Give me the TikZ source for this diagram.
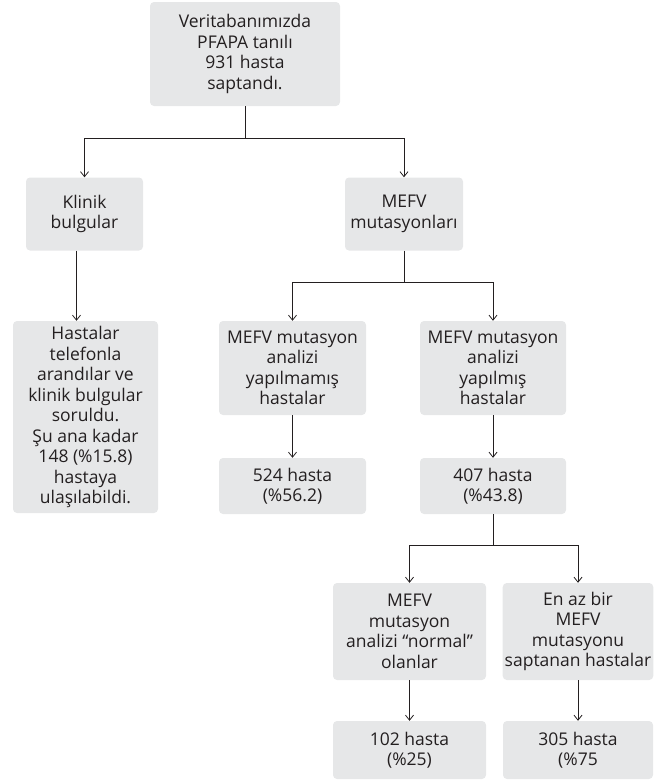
\documentclass[tikz,border=0pt]{standalone}
\usepackage{fontspec}
\setmainfont{Open Sans}
\usetikzlibrary{arrows.meta}
\definecolor{boxgray}{HTML}{E6E7E8}
\definecolor{ink}{HTML}{231F20}
\tikzset{
  box/.style={fill=boxgray,rounded corners=4pt,align=center,text=ink,inner sep=2pt,
    font=\fontsize{17.5}{20.5}\selectfont},
  arr/.style={draw=ink,line width=0.8pt,-{Straight Barb[length=5pt,width=8pt]}},
  ln/.style={draw=ink,line width=0.8pt}
}
\begin{document}
\begin{tikzpicture}[x=1pt,y=1pt]
  \useasboundingbox (0,0) rectangle (654,-782);
  % top
  \node[box,minimum width=190pt,minimum height=104pt] (top) at (245,-54)
    {Veritabanımızda\\PFAPA tanılı\\931 hasta\\saptandı.};
  \node[box,minimum width=117pt,minimum height=73pt] (klinik) at (84.5,-214)
    {Klinik\\bulgular};
  \node[box,minimum width=118pt,minimum height=73pt] (mefv) at (404,-214)
    {MEFV\\mutasyonları};
  \node[box,minimum width=145pt,minimum height=192pt] (tel) at (85.5,-417)
    {Hastalar\\telefonla\\arandılar ve\\klinik bulgular\\soruldu.\\Şu ana kadar\\148 (\%15.8)\\hastaya\\ulaşılabildi.};
  % mutasyon analizi
  \node[box,minimum width=147pt,minimum height=94pt] (yok) at (292.5,-368)
    {MEFV mutasyon\\analizi\\yapılmamış\\hastalar};
  \node[box,minimum width=146pt,minimum height=94pt] (var) at (493,-368)
    {MEFV mutasyon\\analizi\\yapılmış\\hastalar};
  \node[box,minimum width=147pt,minimum height=56pt] (n524) at (292.5,-486)
    {524 hasta\\(\%56.2)};
  \node[box,minimum width=146pt,minimum height=56pt] (n407) at (493,-486)
    {407 hasta\\(\%43.8)};
  % sonuclar
  \node[box,minimum width=153pt,minimum height=97pt] (normal) at (409.5,-631.5)
    {MEFV\\mutasyon\\analizi ``normal''\\olanlar};
  \node[box,minimum width=150pt,minimum height=97pt] (enaz) at (578,-631.5)
    {En az bir\\MEFV\\mutasyonu\\saptanan hastalar};
  \node[box,minimum width=153pt,minimum height=58pt] (n102) at (409.5,-750)
    {102 hasta\\(\%25)};
  \node[box,minimum width=150pt,minimum height=58pt] (n305) at (578,-750)
    {305 hasta\\(\%75};

  \coordinate (j1) at (245,-138);
  \coordinate (j2) at (404,-282);
  \coordinate (j3) at (493,-545);
  \coordinate (k1) at ([xshift=-8pt]klinik.south);

  \draw[ln] (top) -- (j1);
  \draw[arr] (j1) -| (klinik);
  \draw[arr] (j1) -| (mefv);
  \draw[arr] (k1) -- (k1 |- tel.north);
  \draw[ln] (mefv) -- (j2);
  \draw[arr] (j2) -| (yok);
  \draw[arr] (j2) -| (var);
  \draw[arr] (yok) -- (n524);
  \draw[arr] (var) -- (n407);
  \draw[ln] (n407) -- (j3);
  \draw[arr] (j3) -| (normal);
  \draw[arr] (j3) -| (enaz);
  \draw[arr] (normal) -- (n102);
  \draw[arr] (enaz) -- (n305);
\end{tikzpicture}
\end{document}
